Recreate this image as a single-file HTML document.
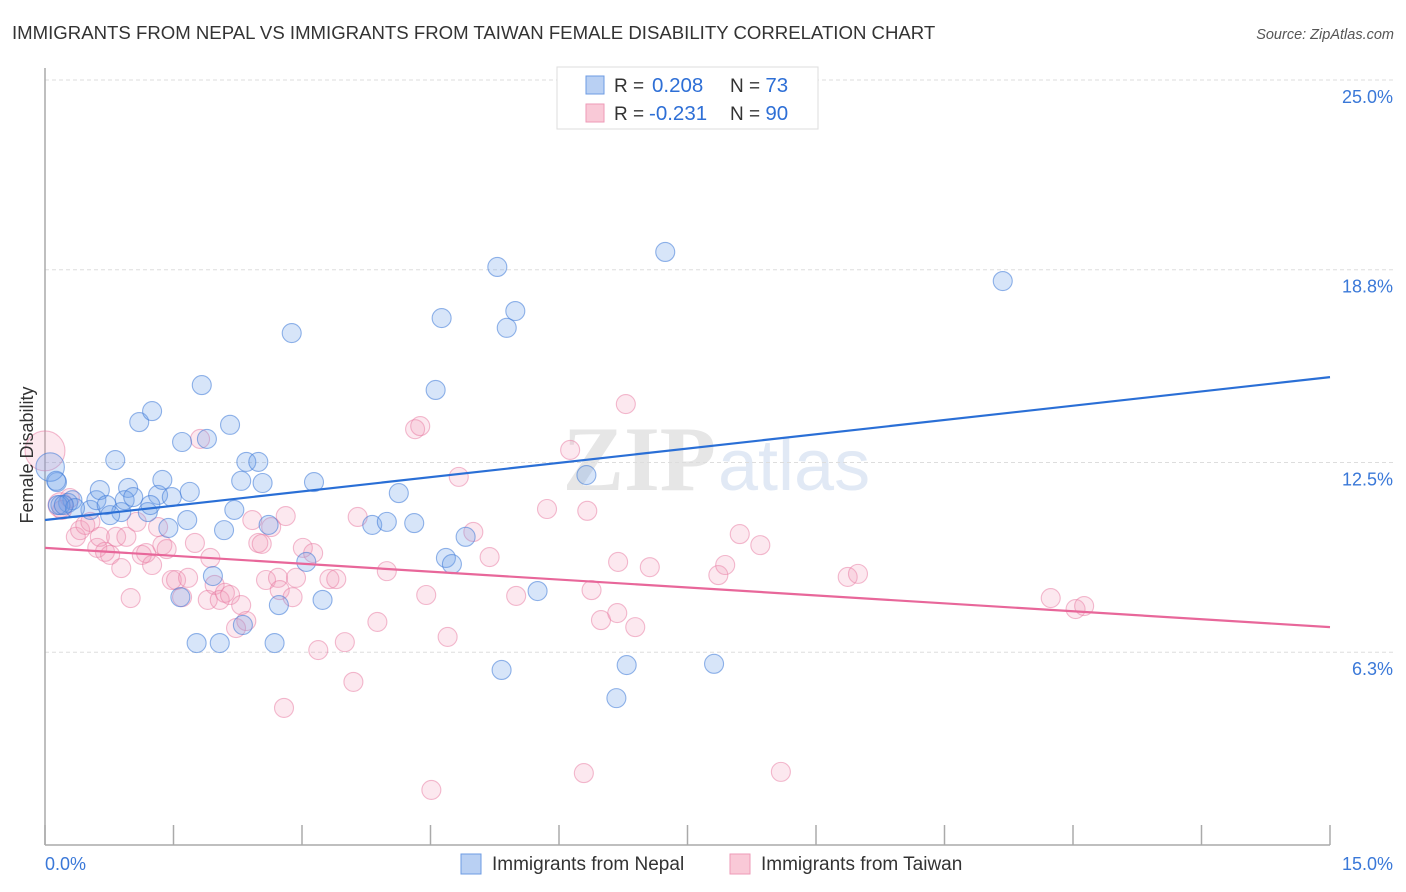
<!DOCTYPE html>
<html><head><meta charset="utf-8"><style>
body{margin:0;background:#fff;font-family:"Liberation Sans",sans-serif;}
svg{display:block}
</style></head><body>
<svg id="chart" width="1406" height="892" xmlns="http://www.w3.org/2000/svg">
<text x="12" y="39" font-size="18.6" fill="#333">IMMIGRANTS FROM NEPAL VS IMMIGRANTS FROM TAIWAN FEMALE DISABILITY CORRELATION CHART</text>
<text x="1394" y="39" font-size="14.5" fill="#555" text-anchor="end" font-style="italic">Source: ZipAtlas.com</text>
<text x="716" y="490" font-size="92" fill="#e6e6e6" text-anchor="end" font-family="Liberation Serif" font-weight="bold">ZIP</text>
<text x="718" y="490" font-size="72" fill="#e1e9f5">atlas</text>
<g id="grid"></g><g id="axes"></g><g id="pts"></g><g id="lines"></g>
<text x="28" y="455" font-size="18" fill="#333" text-anchor="middle" dominant-baseline="middle" transform="rotate(-90 28 455)">Female Disability</text>
<g>
<rect x="557" y="67" width="261" height="62" fill="#fff" stroke="#ddd"/>
<rect x="586" y="76" width="18" height="18" fill="#b9d0f3" stroke="#6d9be3"/>
<rect x="586" y="104" width="18" height="18" fill="#f9c9d7" stroke="#ee9ab7"/>
<text x="614" y="92" font-size="19" fill="#333">R = <tspan x="652" fill="#2e6fd6" font-size="20.5">0.208</tspan><tspan x="730">N = </tspan><tspan fill="#2e6fd6" font-size="20.5">73</tspan></text>
<text x="614" y="120" font-size="19" fill="#333">R = <tspan x="649" fill="#2e6fd6" font-size="20.5">-0.231</tspan><tspan x="730">N = </tspan><tspan fill="#2e6fd6" font-size="20.5">90</tspan></text>
</g>
<g>
<rect x="461" y="854" width="20" height="20" fill="#b9d0f3" stroke="#6d9be3"/>
<text x="492" y="870" font-size="19" fill="#333">Immigrants from Nepal</text>
<rect x="730" y="854" width="20" height="20" fill="#f9c9d7" stroke="#ee9ab7"/>
<text x="761" y="870" font-size="19" fill="#333">Immigrants from Taiwan</text>
</g>
</svg>
<script>
const yTicks=[25.0,18.8,12.5,6.3];
const yTickLabels=["25.0%","18.8%","12.5%","6.3%"];
const xTicks=[0,1.5,3,4.5,6,7.5,9,10.5,12,13.5,15];
const nepalX=[0.14,0.06,0.13,0.27,0.32,0.18,0.53,0.60,0.64,0.72,0.82,0.89,0.97,0.93,1.03,1.10,1.25,1.20,1.32,1.37,1.44,1.48,1.60,1.66,1.69,1.58,1.83,1.89,1.96,1.77,2.04,2.09,2.16,2.21,2.29,2.35,2.49,2.54,2.61,2.68,2.73,2.88,3.05,3.14,3.24,3.82,3.99,4.13,4.31,4.56,4.63,4.68,4.75,4.91,5.28,5.39,5.49,5.33,5.75,6.32,6.67,6.79,7.24,7.81,11.18,2.31,0.15,0.76,1.23,0.35,0.22];
const nepalY=[11.86,12.35,11.90,11.18,11.27,11.11,10.95,11.27,11.60,11.11,12.58,10.88,11.67,11.27,11.37,13.82,14.18,10.88,11.44,11.93,10.36,11.37,13.17,10.62,11.54,8.10,15.03,13.27,8.79,6.60,6.60,10.29,13.73,10.95,11.90,12.52,12.52,11.83,10.46,6.60,7.84,16.73,9.25,11.86,8.01,10.46,10.56,11.50,10.52,14.87,17.22,9.38,9.18,10.07,18.89,16.90,17.45,5.72,8.30,12.09,4.80,5.88,19.38,5.92,18.43,7.19,11.11,10.78,11.11,11.01,11.11];
const taiwanX=[0.00,0.18,0.20,0.29,0.36,0.41,0.47,0.53,0.61,0.64,0.70,0.76,0.83,0.89,0.95,1.00,1.07,1.13,1.18,1.25,1.32,1.37,1.42,1.48,1.53,1.60,1.67,1.75,1.81,1.90,1.93,1.98,2.04,2.10,2.16,2.23,2.29,2.35,2.42,2.49,2.53,2.58,2.64,2.72,2.74,2.79,2.81,2.89,2.93,3.01,3.13,3.19,3.32,3.40,3.50,3.60,3.65,3.88,3.99,4.32,4.38,4.45,4.51,4.70,4.83,5.00,5.19,5.50,5.86,6.13,6.29,6.33,6.38,6.49,6.68,6.69,6.78,6.89,7.06,7.86,7.94,8.11,8.35,8.59,9.37,9.49,11.74,12.03,12.13];
const taiwanY=[12.88,11.11,10.95,11.34,10.07,10.29,10.46,10.56,9.71,10.07,9.58,9.48,10.07,9.05,10.07,8.07,10.56,9.48,9.54,9.15,10.39,9.80,9.67,8.66,8.66,8.10,8.73,9.87,13.27,8.01,9.38,8.50,8.01,8.24,8.17,7.09,7.84,7.32,10.62,9.87,9.84,8.66,10.39,8.73,8.33,4.48,10.75,8.10,8.73,9.71,9.54,6.37,8.69,8.69,6.63,5.33,10.72,7.29,8.95,13.59,13.69,8.17,1.80,6.80,12.03,10.23,9.41,8.14,10.98,12.91,2.35,10.92,8.33,7.35,7.58,9.25,14.41,7.12,9.08,8.82,9.15,10.16,9.80,2.39,8.76,8.86,8.07,7.71,7.81];
const nepalSizes=[1,1.5,1,1,1,1];
const taiwanSizes=[2.1,1.3];
const nepalTrend=[10.62,15.29];
const taiwanTrend=[9.71,7.12];
const NS="http://www.w3.org/2000/svg";
const X0=45,X1=1330,YB=845;
const xs=v=>X0+v/15*(X1-X0);
const ys=v=>80+(25-v)*30.6;
function mk(tag,parent,attrs){const e=document.createElementNS(NS,tag);for(const k in attrs)e.setAttribute(k,attrs[k]);parent.appendChild(e);return e;}
const grid=document.getElementById('grid'),axes=document.getElementById('axes'),pts=document.getElementById('pts'),lines=document.getElementById('lines');
yTicks.forEach((t,i)=>{
 const l=mk('line',grid,{x1:X0,x2:1394,y1:ys(t),y2:ys(t),stroke:'#ddd','stroke-dasharray':'4,3'});
 
 
 const tx=mk('text',grid,{x:1393,y:ys(t)+23,'font-size':18,fill:'#3a78d8','text-anchor':'end'});
 tx.textContent=yTickLabels[i];
 
 
});
const ax=mk('line',axes,{x1:X0,x2:X0,y1:68,y2:YB,stroke:'#aaa','stroke-width':1.5});


const bx=mk('line',axes,{x1:X0,x2:X1,y1:YB,y2:YB,stroke:'#aaa','stroke-width':1.5});


xTicks.forEach(t=>{
 const k=mk('line',axes,{x1:xs(t),x2:xs(t),y1:YB,y2:YB-20,stroke:'#aaa','stroke-width':1.5});
 
 
});
const xl0=mk('text',axes,{x:45,y:870,'font-size':18,fill:'#3a78d8'});xl0.textContent='0.0%';


const xl1=mk('text',axes,{x:1393,y:870,'font-size':18,fill:'#3a78d8','text-anchor':'end'});xl1.textContent='15.0%';


function drawSeries(X,Y,S,fill,stroke,name){
 X.forEach((v,i)=>{
  const c=mk('circle',pts,{cx:xs(v),cy:ys(Y[i]),r:9.5*(S[i]||1),fill:fill,stroke:stroke,'stroke-width':1.1});
  
  
 });
}
drawSeries(taiwanX,taiwanY,taiwanSizes,'rgba(243,150,180,0.22)','rgba(232,120,160,0.5)','taiwan-point');
drawSeries(nepalX,nepalY,nepalSizes,'rgba(110,160,235,0.28)','rgba(60,120,215,0.55)','nepal-point');
const t1=mk('line',lines,{x1:xs(0),x2:xs(15),y1:ys(nepalTrend[0]),y2:ys(nepalTrend[1]),stroke:'#2a6fd6','stroke-width':2.2});


const t2=mk('line',lines,{x1:xs(0),x2:xs(15),y1:ys(taiwanTrend[0]),y2:ys(taiwanTrend[1]),stroke:'#e8679a','stroke-width':2.2});


</script>
</body></html>
